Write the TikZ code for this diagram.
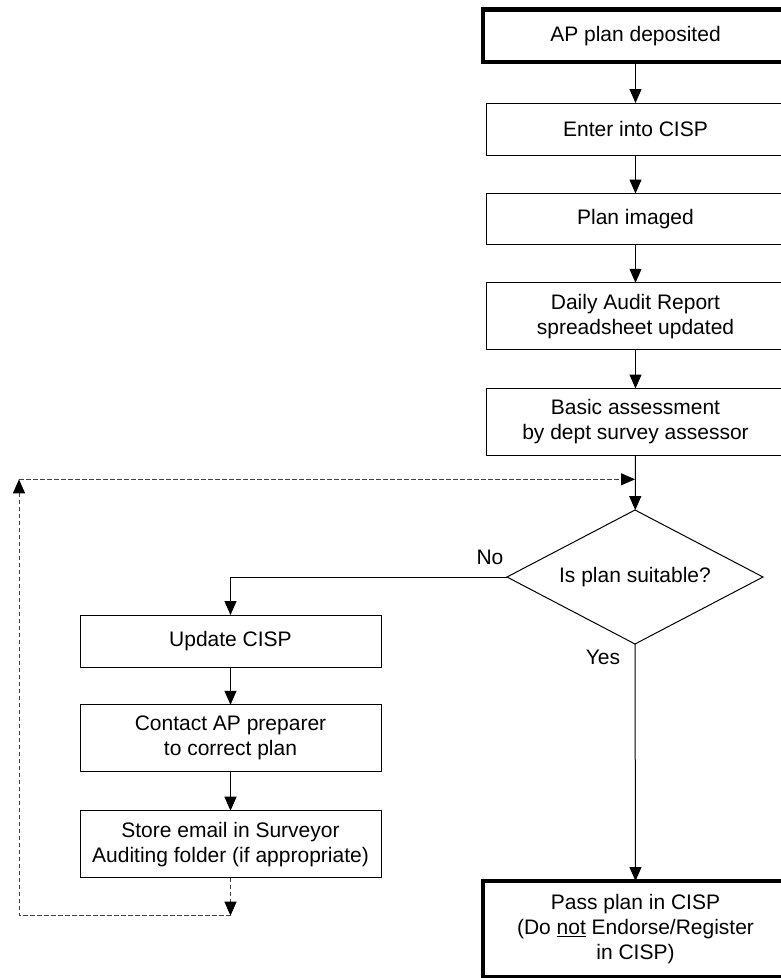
\documentclass[tikz,border=0pt]{standalone}
\usepackage{fontspec}
\setmainfont{Liberation Sans}
\usetikzlibrary{arrows.meta,shapes.geometric}

\begin{document}
\begin{tikzpicture}[x=1pt,y=-1pt,
  every node/.style={font=\fontsize{21}{25}\selectfont, align=center, outer sep=0pt, inner sep=0pt},
  stepbox/.style={draw, line width=1pt, minimum width=301pt},
  termbox/.style={draw, line width=4.5pt, minimum width=305pt},
  decision/.style={draw, diamond, aspect=1.91, line width=1pt, minimum width=256pt, minimum height=134pt},
  flow/.style={-{Triangle[length=14pt,width=12pt]}, line width=1pt},
  loopline/.style={draw=black!75, line width=1pt, dash pattern=on 4.5pt off 2.5pt},
  looparrow/.style={loopline, -{Triangle[length=14pt,width=12pt,fill=black,color=black]}}
]
\useasboundingbox (0,0) rectangle (781,978);
\clip (0,0) rectangle (781,978);

% main column
\node[termbox, minimum height=52.5pt] (dep) at (635.5,35.75) {AP plan deposited};
\node[stepbox, minimum width=299pt, minimum height=52pt] (enter) at (635.5,129) {Enter into CISP};
\node[stepbox, minimum width=299pt, minimum height=51pt] (imaged) at (635.5,219) {Plan imaged};
\node[stepbox, minimum width=299pt, minimum height=67pt] (daily) at (635.5,316.3) {Daily Audit Report\\spreadsheet updated};
\node[stepbox, minimum width=299pt, minimum height=67pt] (basic) at (635.5,422) {Basic assessment\\by dept survey assessor};
\node[decision] (dec) at (635,577) {Is plan suitable?};
\node[termbox, minimum height=96pt] (pass) at (635.5,929) {Pass plan in CISP\\(Do \underline{not} Endorse/Register\\in CISP)};

% correction branch
\node[stepbox, minimum height=52pt] (update) at (230.5,641) {Update CISP};
\node[stepbox, minimum height=67pt] (contact) at (230.5,738.3) {Contact AP preparer\\to correct plan};
\node[stepbox, minimum height=67pt] (store) at (230.5,844.2) {Store email in Surveyor\\Auditing folder (if appropriate)};

% branch labels
\node (no) at (490,557) {No};
\node (yes) at (603,657) {Yes};

% loop-back corner points
\coordinate (rejoin) at (635,479.3);
\coordinate (lowdrop) at (230.5,915.7);
\coordinate (lowleft) at (19,915.7);
\coordinate (upleft) at (19,479.3);

% main flow
\draw[flow] (dep) -- (enter);
\draw[flow] (enter) -- (imaged);
\draw[flow] (imaged) -- (daily);
\draw[flow] (daily) -- (basic);
\draw[flow] (basic) -- (dec);
\draw[flow] (dec.south) -- (pass.north);
\draw[flow] (dec.west) -| (update.north);
\draw[flow] (update) -- (contact);
\draw[flow] (contact) -- (store);

% dashed return loop
\draw[looparrow] (store.south) -- (lowdrop);
\draw[looparrow] (lowdrop) -- (lowleft) -- (upleft);
\draw[looparrow] (upleft) -- (rejoin);
\end{tikzpicture}
\end{document}
